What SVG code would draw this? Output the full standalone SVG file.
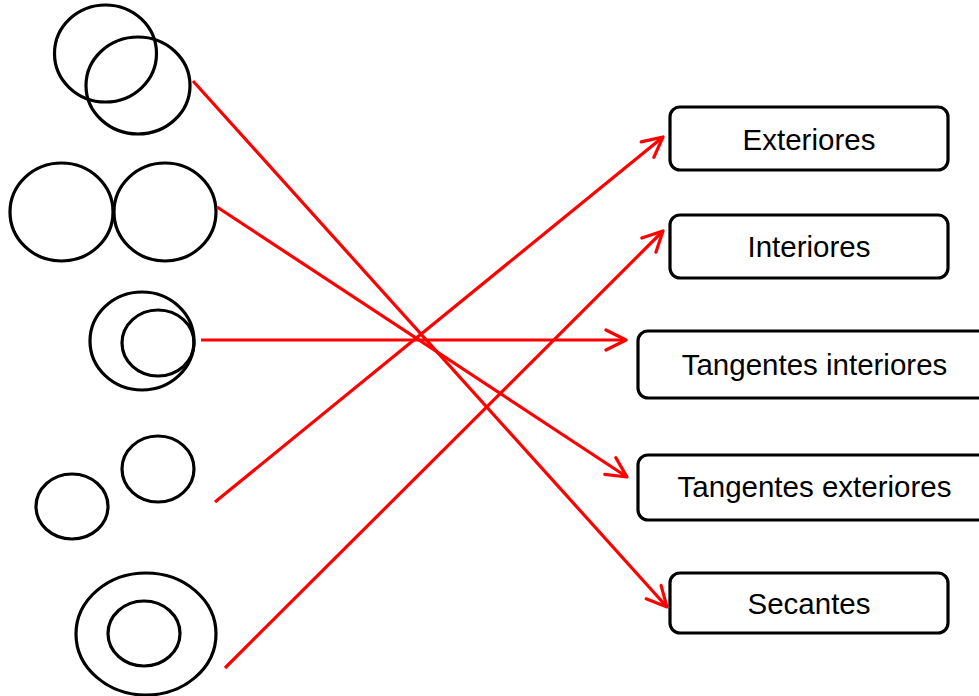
<svg xmlns="http://www.w3.org/2000/svg" width="979" height="696" viewBox="0 0 979 696">
  <style>
    .c { fill: none; stroke: #000; stroke-width: 3.2; }
    .box { fill: #fff; stroke: #000; stroke-width: 3.2; }
    .lbl { font-family: "Liberation Sans", Arial, sans-serif; font-size: 29.5px; fill: #000; text-anchor: middle; }
    .arr { fill: none; stroke: #ff0000; stroke-width: 3.2; marker-end: url(#head); }
  </style>
  <defs>
    <marker id="head" markerUnits="userSpaceOnUse" viewBox="-24 -12 28 24" markerWidth="28" markerHeight="24" refX="0" refY="0" orient="auto">
      <path d="M-20,-10 L0,0 L-20,10" fill="none" stroke="#ff0000" stroke-width="3.2" stroke-linecap="round" stroke-linejoin="round"/>
    </marker>
  </defs>
  <rect width="979" height="696" fill="#fff"/>

  <!-- circle pairs -->
  <g id="secantes-pair">
    <ellipse class="c" cx="105.5" cy="53.5" rx="51" ry="48.5"/>
    <ellipse class="c" cx="138" cy="85.5" rx="52" ry="48.5"/>
  </g>
  <g id="tangentes-exteriores-pair">
    <ellipse class="c" cx="61.5" cy="212" rx="51.5" ry="49"/>
    <ellipse class="c" cx="165" cy="212" rx="51" ry="49"/>
  </g>
  <g id="tangentes-interiores-pair">
    <ellipse class="c" cx="142" cy="341" rx="52" ry="49"/>
    <ellipse class="c" cx="158" cy="343" rx="36" ry="33"/>
  </g>
  <g id="exteriores-pair">
    <ellipse class="c" cx="72" cy="506.5" rx="36" ry="32.5"/>
    <ellipse class="c" cx="158" cy="469" rx="36" ry="33"/>
  </g>
  <g id="interiores-pair">
    <ellipse class="c" cx="146" cy="634" rx="70" ry="61"/>
    <ellipse class="c" cx="144" cy="633.5" rx="36" ry="32.5"/>
  </g>

  <!-- labels -->
  <g id="exteriores">
    <rect class="box" x="670" y="107" width="278" height="63" rx="10"/>
    <text class="lbl" x="809" y="149.5">Exteriores</text>
  </g>
  <g id="interiores">
    <rect class="box" x="670" y="215" width="278" height="63" rx="10"/>
    <text class="lbl" x="809" y="257">Interiores</text>
  </g>
  <g id="tangentes-interiores">
    <rect class="box" x="638" y="331" width="352" height="67" rx="10"/>
    <text class="lbl" x="814.5" y="375">Tangentes interiores</text>
  </g>
  <g id="tangentes-exteriores">
    <rect class="box" x="638" y="455" width="352" height="65" rx="10"/>
    <text class="lbl" x="814.5" y="497">Tangentes exteriores</text>
  </g>
  <g id="secantes">
    <rect class="box" x="670" y="573" width="278" height="60" rx="10"/>
    <text class="lbl" x="809" y="614">Secantes</text>
  </g>

  <!-- connectors -->
  <g id="connectors">
    <line class="arr" x1="193" y1="81" x2="667" y2="607"/>
    <line class="arr" x1="217" y1="207" x2="627" y2="477"/>
    <line class="arr" x1="201" y1="340" x2="626" y2="340"/>
    <line class="arr" x1="215" y1="502" x2="663" y2="137"/>
    <line class="arr" x1="225" y1="668" x2="663" y2="231"/>
  </g>
</svg>
